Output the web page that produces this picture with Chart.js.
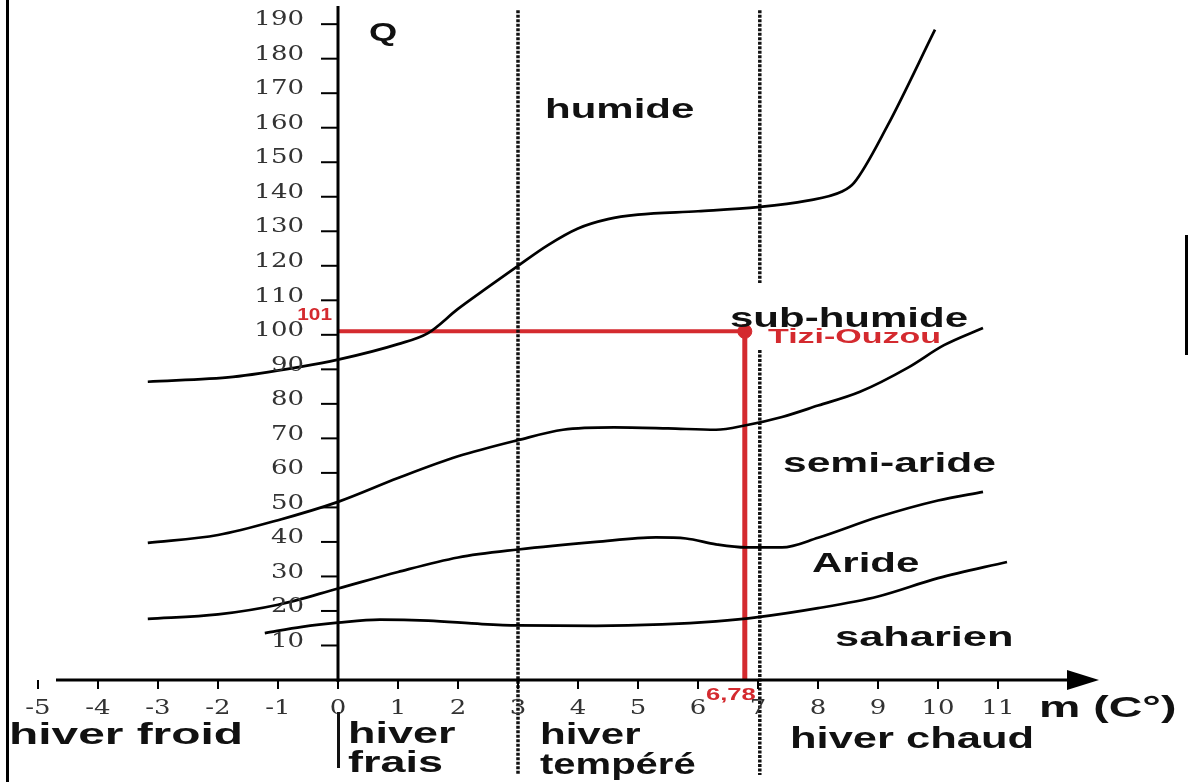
<!DOCTYPE html>
<html>
<head>
<meta charset="utf-8">
<script src="https://cdn.jsdelivr.net/npm/chart.js@4.4.1/dist/chart.umd.min.js"></script>
<style>
html,body{margin:0;padding:0;background:#fff;}
canvas{display:block;}
</style>
</head>
<body>
<canvas id="c" width="1189" height="782"></canvas>
<script>
// ---- data (m in °C, Q) ----
const yTicks = [10,20,30,40,50,60,70,80,90,100,110,120,130,140,150,160,170,180,190];
const xTicks = [-5,-4,-3,-2,-1,0,1,2,3,4,5,6,7,8,9,10,11];

const humidM = [-3.17,-1.75,-0.63,0,1,1.5,2,2.5,3,3.5,4,4.5,5,6,7,7.8,8.4,8.6,9.15,9.95];
const humidQ = [86.4,87.8,90.7,92.8,97.3,100.5,107.5,113.8,120.0,126.0,130.8,133.5,134.8,135.8,137.0,138.8,141.5,144.0,160.3,188.4];

const subHumidM = [-3.17,-2,-1,0,1,2,3,3.75,4.6,5.5,6.3,6.8,7.4,8,8.7,9.5,10.1,10.75];
const subHumidQ = [39.7,42,46.3,51.6,58.5,64.8,69.5,72.5,73.2,72.9,72.5,73.8,76.2,79.5,83.5,90.5,97,102];

const semiAridM = [-3.17,-2,-1,0,1,2,3,4.3,5.3,5.8,6.3,6.8,7.4,8,9,10,10.75];
const semiAridQ = [17.7,19,21.8,26.5,31.3,35.5,37.8,40,41.3,41,39.3,38.4,38.4,41.2,47.2,52,54.5];

const aridM = [-1.22,-0.6,0,0.7,1.5,2.4,3,4.3,5.4,6.3,7,8,9,10,11.15];
const aridQ = [13.6,15.4,16.6,17.5,17.2,16.2,15.8,15.7,16.1,17,18.2,20.8,24.2,29.5,34.2];

const stationName = 'Tizi-Ouzou';
const stationM = 6.78;
const stationQ = 101;

const winterBounds = [3, 7.03];
const zoneLabels = ['humide','sub-humide','semi-aride','Aride','saharien'];
const winterLabels = ['hiver froid','hiver frais','hiver tempéré','hiver chaud'];

const RED = '#d42a2f';
const pts = (xs, ys) => xs.map((x,i)=>({x:x, y:ys[i]}));

function curve(xs, ys){
  return {data: pts(xs,ys), borderColor:'#000', borderWidth:2.7, pointRadius:0,
          tension:0.4, cubicInterpolationMode:'monotone', fill:false, clip:false};
}
function dotted(d){
  return {data:d, borderColor:'#111', borderWidth:3.5, borderDash:[3,1.5], pointRadius:0, clip:false, fill:false};
}

// stretched text helper
function txt(ctx, s, x, y, sx, align){
  ctx.save();
  ctx.translate(x, y);
  ctx.scale(sx, 1);
  ctx.textAlign = align || 'left';
  ctx.fillText(s, 0, 0);
  ctx.restore();
}

const overlay = {
  id:'overlay',
  afterDatasetsDraw(chart){
    const ctx = chart.ctx, xs = chart.scales.x, ys = chart.scales.y;
    const x0 = xs.getPixelForValue(0), y0 = ys.getPixelForValue(0);
    ctx.save();
    // frame line on left
    ctx.fillStyle = '#000';
    ctx.fillRect(6,0,3,782);
    ctx.fillRect(1185,235,3,120);
    // y axis
    ctx.strokeStyle = '#000'; ctx.lineWidth = 3;
    ctx.beginPath(); ctx.moveTo(x0, 6); ctx.lineTo(x0, y0+2); ctx.stroke();
    // x axis
    const xa = xs.getPixelForValue(-4.7), xb = xs.getPixelForValue(12.35);
    ctx.beginPath(); ctx.moveTo(xa, y0); ctx.lineTo(xb, y0); ctx.stroke();
    // arrow head
    ctx.beginPath();
    ctx.moveTo(xb+20, y0); ctx.lineTo(xb-12, y0-10); ctx.lineTo(xb-12, y0+10); ctx.closePath(); ctx.fill();
    // y ticks
    ctx.lineWidth = 2;
    ctx.font = '20px "DejaVu Serif", "Liberation Serif", serif';
    ctx.fillStyle = '#333'; ctx.textBaseline = 'middle';
    yTicks.forEach(v=>{
      const py = ys.getPixelForValue(v);
      ctx.beginPath(); ctx.moveTo(x0-17, py); ctx.lineTo(x0, py); ctx.stroke();
      txt(ctx, String(v), x0-34, py-4, 1.3, 'right');
    });
    // x ticks
    xTicks.forEach(v=>{
      const px = xs.getPixelForValue(v);
      ctx.beginPath(); ctx.moveTo(px, y0); ctx.lineTo(px, y0+9); ctx.stroke();
      txt(ctx, String(v), px, y0+29, 1.3, 'center');
    });
    // axis titles
    ctx.fillStyle = '#111';
    ctx.textBaseline = 'alphabetic';
    ctx.font = 'bold 25px "Liberation Sans", Arial, sans-serif';
    txt(ctx, 'Q', 369, 41, 1.45);
    ctx.font = 'bold 30px "Liberation Sans", Arial, sans-serif';
    txt(ctx, 'm (C°)', 1039, 717, 1.55);
    // zone labels
    ctx.font = 'bold 28px "Liberation Sans", Arial, sans-serif';
    txt(ctx, zoneLabels[0], 545, 118, 1.5);
    txt(ctx, zoneLabels[1], 730, 327, 1.5);
    txt(ctx, zoneLabels[2], 783, 472, 1.52);
    txt(ctx, zoneLabels[3], 812, 572, 1.5);
    txt(ctx, zoneLabels[4], 835, 646, 1.55);
    // winter labels
    ctx.font = 'bold 29px "Liberation Sans", Arial, sans-serif';
    txt(ctx, winterLabels[0], 9, 744, 1.65);
    const wf = winterLabels[1].split(' ');
    txt(ctx, wf[0], 348, 743, 1.55); txt(ctx, wf[1], 348, 772, 1.55);
    const wt = winterLabels[2].split(' ');
    txt(ctx, wt[0], 540, 744, 1.45); txt(ctx, wt[1], 540, 774, 1.38);
    txt(ctx, winterLabels[3], 790, 748, 1.5);
    // bar for hiver frais
    ctx.fillRect(x0-1, 712, 3, 56);
    // station labels
    ctx.fillStyle = RED;
    ctx.font = 'bold 16px "Liberation Sans", Arial, sans-serif';
    txt(ctx, String(stationQ), x0-6, ys.getPixelForValue(stationQ)-11, 1.3, 'right');
    txt(ctx, String(stationM).replace('.', ','), xs.getPixelForValue(stationM)+11, y0+20, 1.6, 'right');
    ctx.font = 'bold 20px "Liberation Sans", Arial, sans-serif';
    txt(ctx, stationName, 768, 343, 1.7);
    ctx.restore();
  }
};

new Chart(document.getElementById('c'), {
  type:'line',
  data:{
    datasets:[
      curve(humidM, humidQ),
      curve(subHumidM, subHumidQ),
      curve(semiAridM, semiAridQ),
      curve(aridM, aridQ),
      dotted([{x:winterBounds[0], y:194},{x:winterBounds[0], y:-27.5}]),
      dotted([{x:winterBounds[1], y:194},{x:winterBounds[1], y:115}]),
      dotted([{x:winterBounds[1], y:95.6},{x:winterBounds[1], y:-27.5}]),
      {data:[{x:0,y:stationQ},{x:stationM,y:stationQ}], borderColor:RED, borderWidth:4, pointRadius:0, clip:false},
      {data:[{x:stationM,y:stationQ},{x:stationM,y:0}], borderColor:RED, borderWidth:5, pointRadius:0, clip:false},
      {data:[{x:stationM,y:stationQ}], borderColor:RED, backgroundColor:RED, pointRadius:7, showLine:false, clip:false}
    ]
  },
  options:{
    responsive:false,
    devicePixelRatio:1,
    animation:false,
    events:[],
    layout:{autoPadding:false, padding:{left:20, right:89, top:0, bottom:102}},
    plugins:{legend:{display:false}, tooltip:{enabled:false}},
    scales:{
      x:{type:'linear', min:-5.3, max:12.7, display:false},
      y:{type:'linear', min:0, max:197, display:false}
    }
  },
  plugins:[overlay]
});
</script>
</body>
</html>
